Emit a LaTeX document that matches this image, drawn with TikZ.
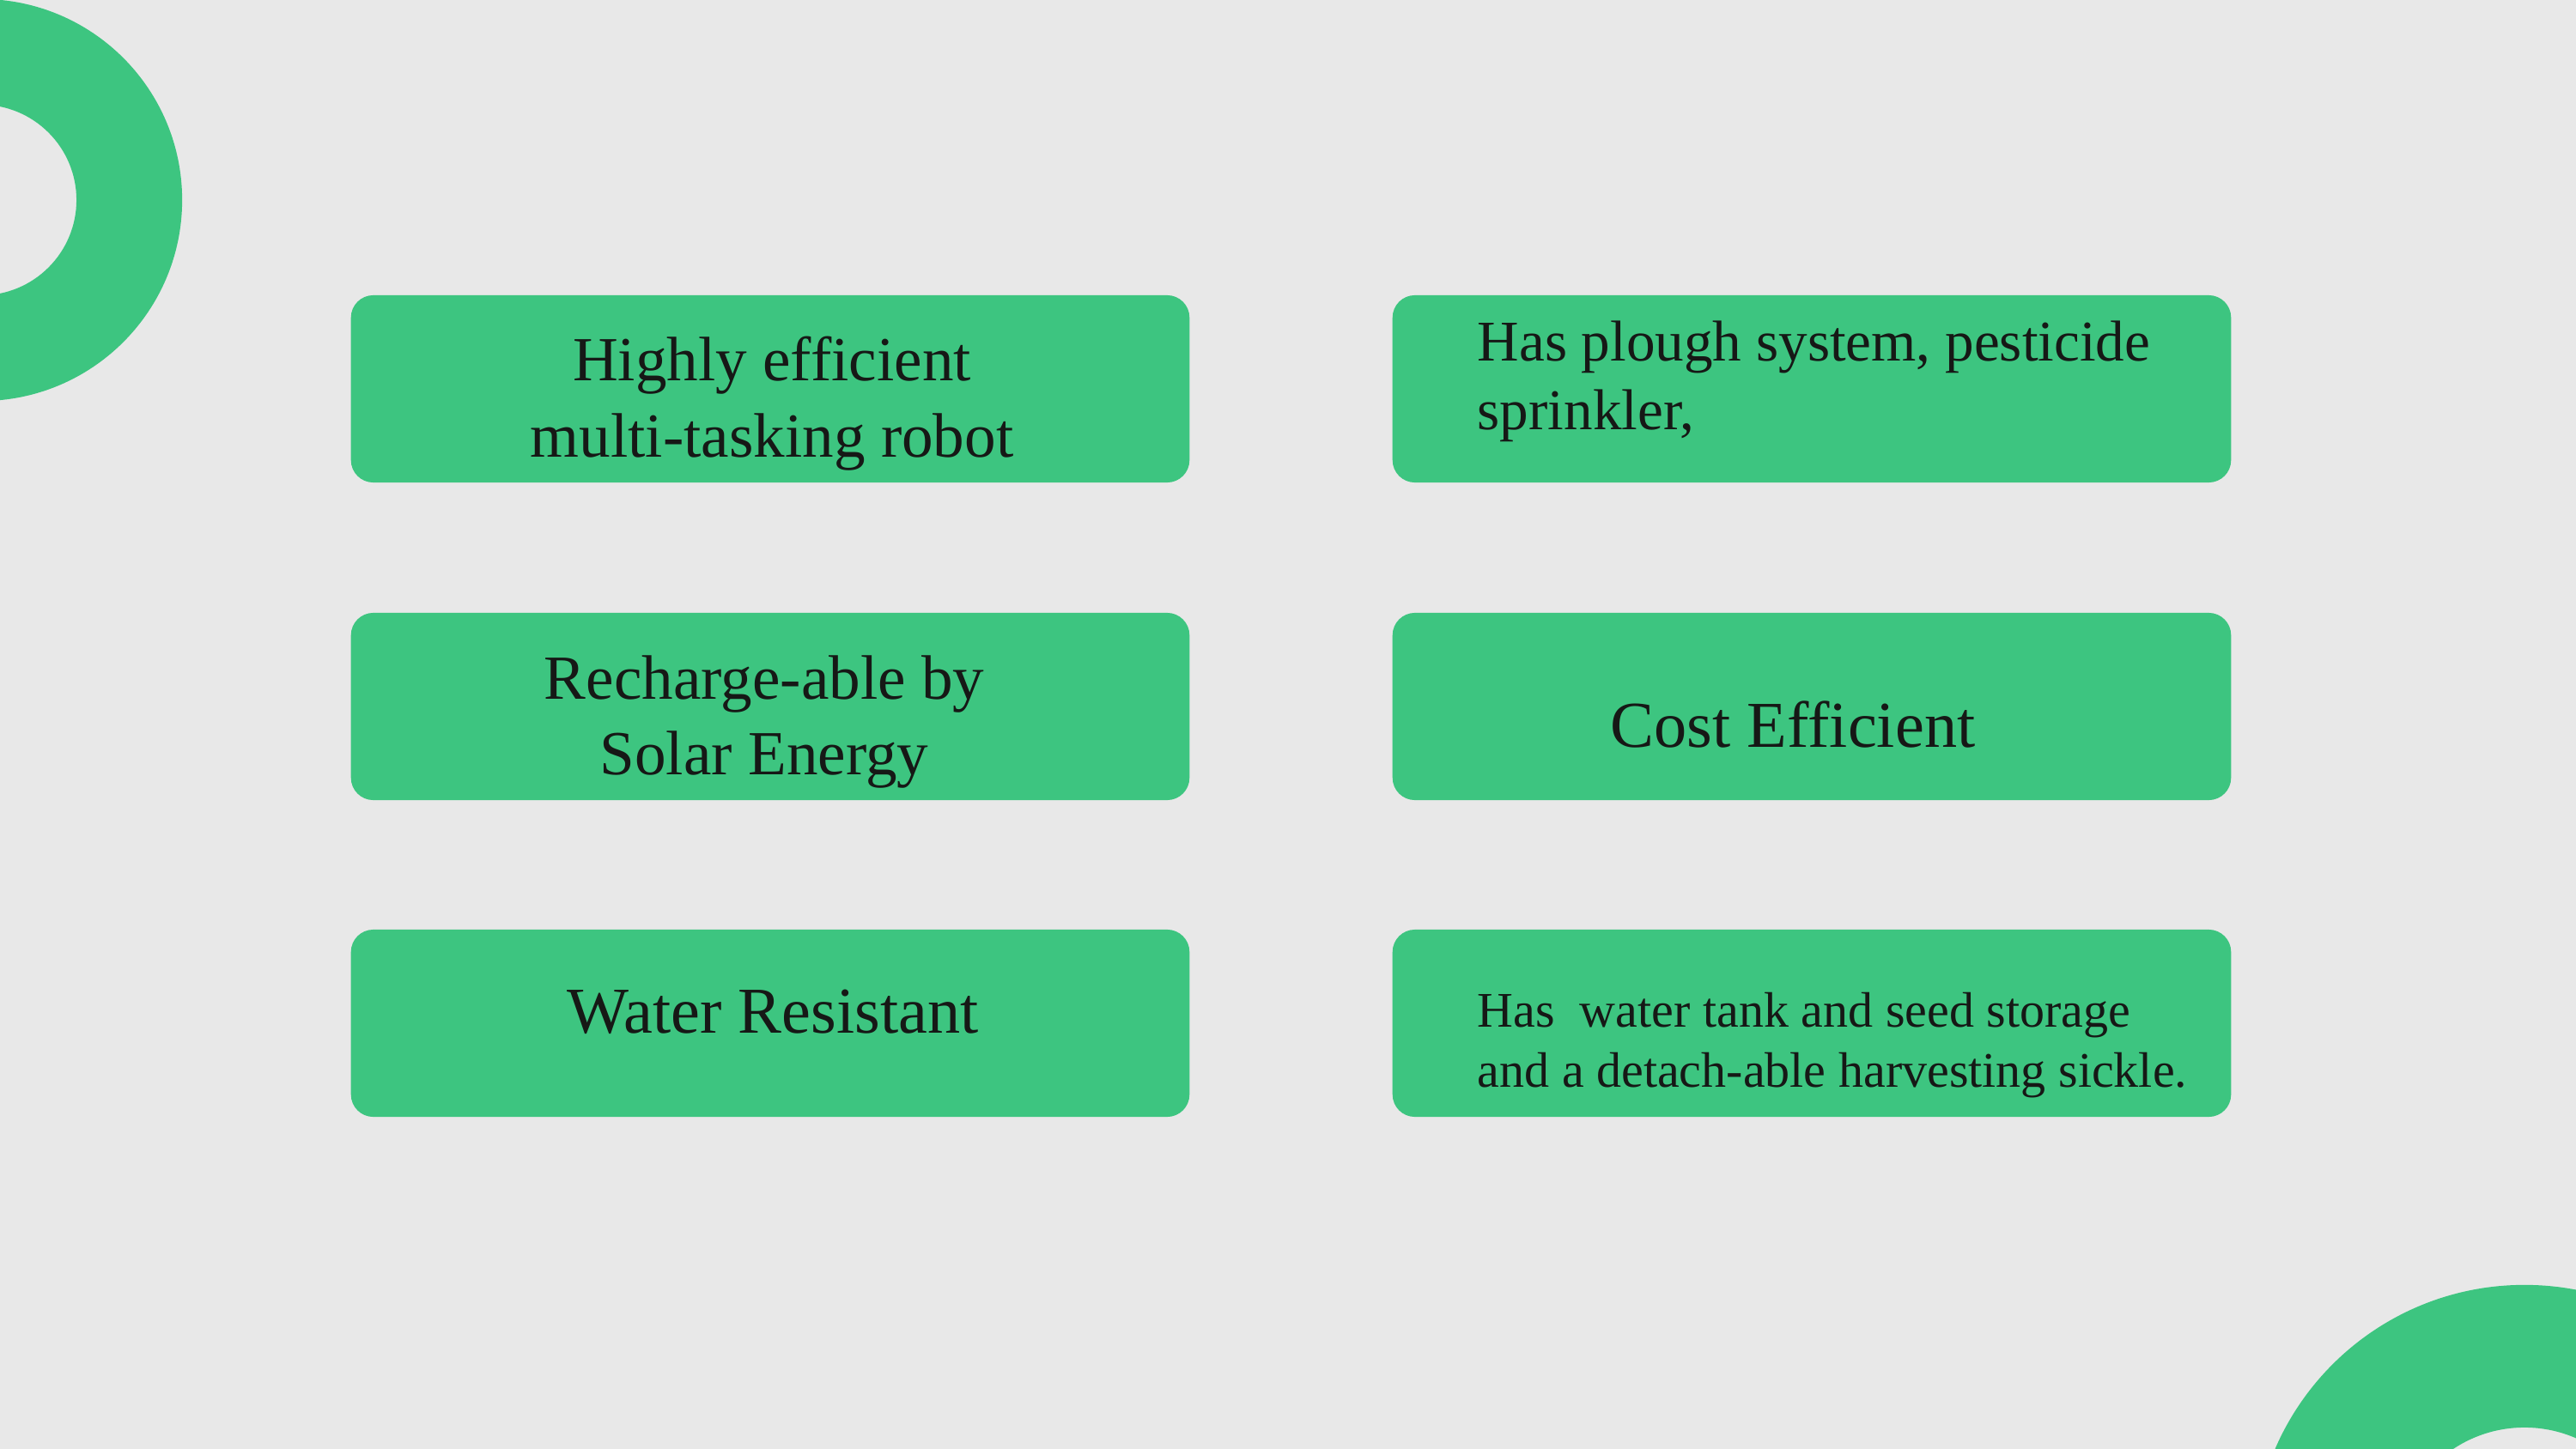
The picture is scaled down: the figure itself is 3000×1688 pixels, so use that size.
\documentclass[tikz,border=0pt]{standalone}
\usepackage{fontspec}
\setmainfont{Liberation Serif}
\definecolor{bggray}{HTML}{E8E8E8}
\definecolor{boxgreen}{HTML}{3DC580}
\definecolor{inkdark}{HTML}{161816}
\newcommand\centerlines[2]{\vtop{\halign{\hfil##\hfil\cr#1\cr#2\cr}}}
\newcommand\leftlines[2]{\vtop{\halign{##\hfil\cr#1\cr#2\cr}}}
\tikzset{
  cardbox/.style={rectangle, fill=boxgreen, draw=none, rounded corners=0.26cm,
    minimum width=9.76cm, minimum height=2.18cm, inner sep=0pt},
  cardtext/.style={inner sep=0pt, text=inkdark},
  ringfill/.style={fill=boxgreen, even odd rule}
}
\begin{document}
\begin{tikzpicture}[x=0.01cm, y=-0.01cm]
\useasboundingbox (0,0) rectangle (3000,1688);
\fill[bggray] (0,0) rectangle (3000,1688);
\begin{scope}
  \clip (0,0) rectangle (3000,1688);
  \path[ringfill] (-22,233) circle[radius=2.34cm] (-22,233) circle[radius=1.11cm];
  \path[ringfill] (2940,1813) circle[radius=3.16cm] (2940,1813) circle[radius=1.50cm];
\end{scope}
% boxes
\node[cardbox] (b1) at (897,453) {};
\node[cardbox] (b2) at (897,823) {};
\node[cardbox] (b3) at (2110,453) {};
\node[cardbox] (b4) at (2110,823) {};
\node[cardbox] (b5) at (897,1192) {};
\node[cardbox] (b6) at (2110,1192) {};
% texts
\node[cardtext, anchor=base] (t1) at (899,443.5)
  {\fontsize{20.8}{25.3}\selectfont\centerlines{Highly efficient}{multi-tasking robot}};
\node[cardtext, anchor=base] (t2) at (890,814)
  {\fontsize{20.8}{25.3}\selectfont\centerlines{Recharge-able by}{Solar Energy}};
\node[cardtext, anchor=base west] (t3) at (1720,420.7)
  {\fontsize{19.1}{22.76}\selectfont\leftlines{Has plough system, pesticide}{sprinkler,}};
\node[cardtext, anchor=base] (t4) at (2088,870.7)
  {\fontsize{21.7}{26}\selectfont Cost Efficient};
\node[cardtext, anchor=base] (t5) at (900,1203)
  {\fontsize{21.7}{26}\selectfont Water Resistant};
\node[cardtext, anchor=base west] (t6) at (1720,1196.7)
  {\fontsize{16.5}{19.92}\selectfont\leftlines{Has\ \ water tank and seed storage}{and a detach-able harvesting sickle.}};
\end{tikzpicture}
\end{document}
